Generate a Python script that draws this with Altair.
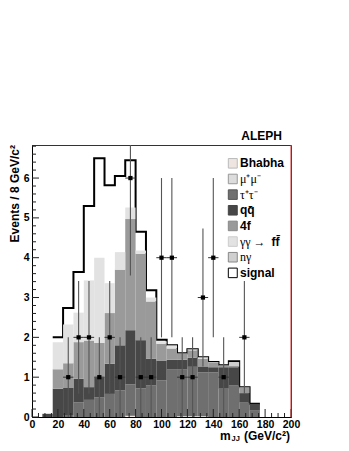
import altair as alt
import pandas as pd
import numpy as np

# ---------------- data ----------------
bin_lo = [0, 8, 16, 24, 32, 40, 48, 56, 64, 72, 80, 88, 96, 104, 112, 120, 128, 136, 144, 152, 160, 168]
bin_w = 8
bhabha = [0, 0, 0, 0, 0, 0, 0, 0, 0, 0.03, 0, 0, 0, 0, 0, 0, 0, 0, 0, 0, 0, 0]
mumu   = [0, 0, 0, 0, 0, 0, 0, 0, 0, 0, 0, 0, 0, 0, 0.02, 0.02, 0.02, 0, 0, 0, 0, 0]
tautau = [0, 0, 0, 0.05, 0.37, 0.43, 0.49, 0.58, 0.67, 0.79, 0.72, 0.79, 0.92, 1.19, 1.17, 1.24, 1.10, 1.12, 0.71, 0.80, 0.36, 0.16]
qqbar  = [0, 0.08, 0.71, 0.68, 0.59, 0.32, 0.51, 0.76, 1.13, 1.36, 1.21, 0.67, 0.50, 0.25, 0.25, 0.23, 0.15, 0.13, 0.54, 0.45, 0.24, 0.17]
fourf  = [0, 0, 0.49, 0.62, 0.92, 1.17, 0.86, 1.27, 1.90, 2.79, 2.17, 1.44, 0.42, 0.28, 0.15, 0.18, 0.19, 0.11, 0.04, 0.03, 0.15, 0]
gaga   = [0, 0, 0.68, 0.97, 0.74, 1.51, 2.14, 0.75, 0.44, 0.29, 0.08, 0.10, 0.06, 0.08, 0.01, 0.03, 0.04, 0.02, 0.01, 0, 0, 0]
ngamma = [0, 0, 0, 0, 0, 0, 0, 0, 0, 0, 0, 0, 0, 0, 0, 0, 0, 0, 0, 0.10, 0, 0]
signal = [0, 0, 0.12, 0.42, 1.02, 1.87, 2.50, 2.46, 1.91, 1.19, 0.47, 0.18, 0.04, 0, 0, 0, 0, 0, 0, 0.02, 0, 0]
counts = [0, 0, 0, 1, 2, 2, 1, 2, 1, 6, 1, 1, 4, 4, 1, 1, 3, 4, 1, 0, 2, 0]

x_labels = [0, 20, 40, 60, 80, 100, 120, 140, 160, 180, 200]
y_labels = [0, 1, 2, 3, 4, 5, 6]
y_max = 6.83

comp_names = ["Bhabha", "mumu", "tautau", "qq", "4f", "gg", "ngamma"]
comp_vals = [bhabha, mumu, tautau, qqbar, fourf, gaga, ngamma]
comp_fill = ["#eee5e1", "#dcdcdc", "#6f6f6f", "#474747", "#9a9a9a", "#e2e2e2", "#cfcfcf"]

# ---------------- derived tables ----------------
rows = []
base = np.zeros(len(bin_lo))
for name, vals, fill in zip(comp_names, comp_vals, comp_fill):
    v = np.array(vals, dtype=float)
    for i, lo in enumerate(bin_lo):
        if v[i] > 0:
            rows.append({"comp": name, "lo": lo, "hi": lo + bin_w,
                         "y0": base[i], "y1": base[i] + v[i], "fill": fill})
    base = base + v
stack_df = pd.DataFrame(rows)

total = base + np.array(signal)
first = 2
out_x = [bin_lo[i] for i in range(first, len(bin_lo))] + [bin_lo[-1] + bin_w]
out_y = [total[i] for i in range(first, len(bin_lo))] + [total[-1]]
outline_df = pd.DataFrame({"x": out_x, "y": out_y})

pts = []
for i, lo in enumerate(bin_lo):
    n = counts[i]
    if n > 0:
        c = lo + bin_w / 2
        pts.append({"x": c, "n": n, "lo": max(n - np.sqrt(n), 0), "hi": n + np.sqrt(n),
                    "xl": c - bin_w / 2, "xh": c + bin_w / 2})
pts_df = pd.DataFrame(pts)

W, H = 259, 272
FONT = "Liberation Sans"
xs = alt.Scale(domain=[0, 200], nice=False, zero=False)
ys = alt.Scale(domain=[0, y_max], nice=False, zero=True)
xax = alt.Axis(values=x_labels, ticks=False, grid=False, title=None, labelPadding=2,
               labelOverlap=False, labelFlush=False, labelFont=FONT, labelFontWeight="bold",
               labelFontSize=10.5, labelColor="black", domainColor="black")
yax = alt.Axis(values=y_labels, ticks=False, grid=False, title=None, labelPadding=3,
               labelOverlap=False, labelFlush=False, labelFont=FONT, labelFontWeight="bold",
               labelFontSize=10.5, labelColor="black", domainColor="black")

def X(f):
    return alt.X(f, scale=xs, axis=xax)

def Y(f):
    return alt.Y(f, scale=ys, axis=yax)

outline = alt.Chart(outline_df).mark_line(interpolate="step-after", color="black", strokeWidth=2).encode(
    x=X("x:Q"), y=Y("y:Q"))

stack = alt.Chart(stack_df).mark_rect().encode(
    x=X("lo:Q"), x2="hi:Q", y=Y("y0:Q"), y2="y1:Q",
    color=alt.Color("fill:N", scale=None),
)

# axis ticks drawn inward
xmaj = pd.DataFrame({"v": x_labels})
xmin = pd.DataFrame({"v": [v for v in range(0, 201, 5) if v % 20 != 0]})
ymaj = pd.DataFrame({"v": y_labels})
ymin = pd.DataFrame({"v": [round(0.2 * k, 2) for k in range(0, 35) if k % 5 != 0]})

xt1 = alt.Chart(xmaj).mark_rule(color="#222", strokeWidth=1).encode(x=X("v:Q"), y=alt.value(H), y2=alt.value(H - 8))
xt2 = alt.Chart(xmin).mark_rule(color="#222", strokeWidth=1).encode(x=X("v:Q"), y=alt.value(H), y2=alt.value(H - 4))
yt1 = alt.Chart(ymaj).mark_rule(color="#222", strokeWidth=1).encode(y=Y("v:Q"), x=alt.value(0), x2=alt.value(7))
yt2 = alt.Chart(ymin).mark_rule(color="#222", strokeWidth=1).encode(y=Y("v:Q"), x=alt.value(0), x2=alt.value(4))

verr = alt.Chart(pts_df).mark_rule(color="#555", strokeWidth=1.1, clip=True).encode(
    x=X("x:Q"), y=Y("lo:Q"), y2="hi:Q")
herr = alt.Chart(pts_df).mark_rule(color="#333", strokeWidth=1).encode(
    x=X("xl:Q"), x2="xh:Q", y=Y("n:Q"))
dots = alt.Chart(pts_df).mark_square(color="black", size=18, opacity=1).encode(x=X("x:Q"), y=Y("n:Q"))

redline = alt.Chart(pd.DataFrame({"v": [200]})).mark_rule(color="#cc3030", strokeWidth=1).encode(
    x=X("v:Q"), y=alt.value(0), y2=alt.value(H))

# legend
leg_names = ["Bhabha", "μ⁺μ⁻", "τ⁺τ⁻", "qq̄", "4f", "γγ →", "nγ", "signal"]
leg_fill = comp_fill + ["white"]
leg_stroke = ["#bbb", "#999", "#555", "#444", "#888", "#ccc", "#888", "black"]
leg_bold = [True, False, False, True, True, False, False, True]
leg_top, leg_step = 6.37, 0.393
leg_df = pd.DataFrame({"label": leg_names, "fill": leg_fill, "stroke": leg_stroke,
                       "bold": leg_bold, "row": list(range(len(leg_names)))})
leg_df["ly"] = leg_top - leg_step * leg_df["row"]
leg_df["ly0"] = leg_df["ly"] - 0.12
leg_df["ly1"] = leg_df["ly"] + 0.12
leg_df["lx0"] = 151.6
leg_df["lx1"] = 158.5
leg_df["tx"] = 160.6

sw = alt.Chart(leg_df).mark_rect(strokeWidth=1).encode(
    x=X("lx0:Q"), x2="lx1:Q", y=Y("ly0:Q"), y2="ly1:Q",
    color=alt.Color("fill:N", scale=None), stroke=alt.Stroke("stroke:N", scale=None))
lt_b = alt.Chart(leg_df[leg_df["bold"]]).mark_text(
    align="left", baseline="middle", font=FONT, fontWeight="bold", fontSize=12, color="black").encode(
    x=X("tx:Q"), y=Y("ly:Q"), text="label:N")
lt_n = alt.Chart(leg_df[~leg_df["bold"]]).mark_text(
    align="left", baseline="middle", font="Liberation Serif", fontSize=12, color="black").encode(
    x=X("tx:Q"), y=Y("ly:Q"), text="label:N")
ff_df = pd.DataFrame({"t": ["ff̄"], "x": [185.0], "y": [leg_top - leg_step * 5]})
lt_ff = alt.Chart(ff_df).mark_text(align="left", baseline="middle", font=FONT, fontWeight="bold",
                                   fontSize=12, color="black").encode(x=X("x:Q"), y=Y("y:Q"), text="t:N")

def label(txt, x, y, size=12, align="left", baseline="middle", angle=0, weight="bold"):
    return alt.Chart(pd.DataFrame({"t": [txt]})).mark_text(
        align=align, baseline=baseline, angle=angle, font=FONT, fontWeight=weight,
        fontSize=size, color="black").encode(x=alt.value(x), y=alt.value(y), text="t:N")

aleph = label("ALEPH", 250, -9, size=12, align="right")
ytitle = label("Events / 8 GeV/c²", -17, 0, size=12, align="right", angle=270)
xt_m = label("m", 188, 294.5, size=12, baseline="alphabetic")
xt_jj = label("JJ", 199.5, 296, size=7.5, baseline="alphabetic")
xt_rest = label("(GeV/c²)", 258, 294.5, size=12, align="right", baseline="alphabetic")

chart = alt.layer(
    outline, stack, verr, herr, dots, xt1, xt2, yt1, yt2, redline,
    sw, lt_b, lt_n, lt_ff, aleph, ytitle, xt_m, xt_jj, xt_rest,
).properties(
    width=W, height=H,
    autosize=alt.AutoSizeParams(type="none"),
    padding={"left": 24, "top": 137, "right": 50, "bottom": 26},
    background="white",
).configure_view(
    stroke="#333", strokeWidth=1
)

chart.save("out.html", embed_options={"renderer": "svg", "actions": False})
